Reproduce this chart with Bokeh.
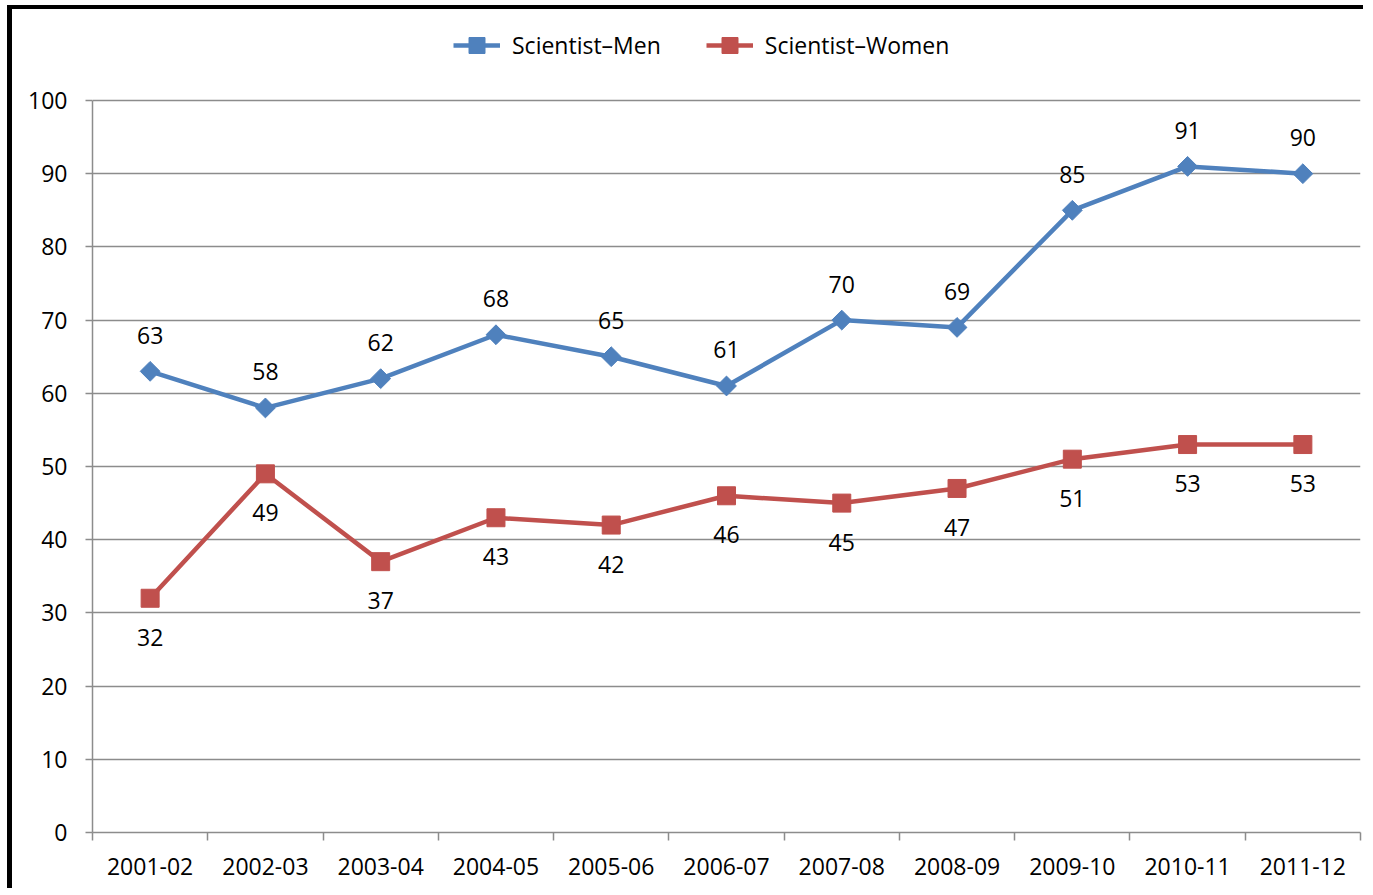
from bokeh.plotting import figure
from bokeh.models import ColumnDataSource, FixedTicker, Legend, LegendItem, Range1d
from bokeh.core.properties import value
from bokeh.embed import file_html
from bokeh.resources import INLINE

years = ["2001-02", "2002-03", "2003-04", "2004-05", "2005-06", "2006-07",
         "2007-08", "2008-09", "2009-10", "2010-11", "2011-12"]
men = [63, 58, 62, 68, 65, 61, 70, 69, 85, 91, 90]
women = [32, 49, 37, 43, 42, 46, 45, 47, 51, 53, 53]
y_ticks = [0, 10, 20, 30, 40, 50, 60, 70, 80, 90, 100]

FONT = "Open Sans"
BLUE = "#4F81BD"
RED = "#C0504D"
GRAY = "#8C8C8C"

# layout: frame spans whole height above x axis; the value axis occupies the
# lower part, the legend sits in the blank band above the 100 gridline
FRAME_H = 823      # px from figure top to x axis
AXIS_H = 732       # px used by 0..100
y_top = y_ticks[-1] * FRAME_H / AXIS_H

xs = [i + 0.5 for i in range(len(years))]
src = ColumnDataSource(dict(x=xs, men=men, women=women,
                            men_lbl=[str(v) for v in men],
                            women_lbl=[str(v) for v in women]))

p = figure(width=1356, height=883, output_backend="svg", toolbar_location=None,
           x_range=Range1d(0, len(years)), y_range=Range1d(0, y_top),
           min_border_left=80, min_border_right=8, min_border_top=0,
           min_border_bottom=60)
p.styles = {"border-left": "5px solid black", "border-top": "4px solid black",
            "margin-left": "7px", "margin-top": "5px"}
p.outline_line_color = None
p.background_fill_color = "white"
p.border_fill_color = "white"

# grids
p.xgrid.grid_line_color = None
p.ygrid.grid_line_color = GRAY
p.ygrid.grid_line_width = 1.5
p.ygrid.ticker = FixedTicker(ticks=y_ticks)

# y axis
p.yaxis.ticker = FixedTicker(ticks=y_ticks)
p.yaxis.bounds = (y_ticks[0], y_ticks[-1])
p.yaxis.axis_line_color = GRAY
p.yaxis.axis_line_width = 1.5
p.yaxis.major_tick_line_color = GRAY
p.yaxis.major_tick_line_width = 1.5
p.yaxis.major_tick_in = 0
p.yaxis.major_tick_out = 7
p.yaxis.minor_tick_line_color = None
p.yaxis.major_label_standoff = 18
p.yaxis.major_label_text_font = FONT
p.yaxis.major_label_text_font_size = "23px"
p.yaxis.major_label_text_color = "black"

# x axis: labels at centers, ticks at boundaries (minor ticks)
p.xaxis.ticker = FixedTicker(ticks=xs, minor_ticks=list(range(len(years) + 1)))
p.xaxis.major_label_overrides = {x: y for x, y in zip(xs, years)}
p.xaxis.axis_line_color = GRAY
p.xaxis.axis_line_width = 1.5
p.xaxis.major_tick_line_color = None
p.xaxis.minor_tick_line_color = GRAY
p.xaxis.minor_tick_line_width = 1.5
p.xaxis.minor_tick_in = 0
p.xaxis.minor_tick_out = 8
p.xaxis.major_tick_in = 0
p.xaxis.major_tick_out = 0
p.xaxis.major_label_standoff = 17
p.xaxis.major_label_text_font = FONT
p.xaxis.major_label_text_font_size = "23px"
p.xaxis.major_label_text_color = "black"

# series
l_men = p.line("x", "men", source=src, line_color=BLUE, line_width=4.5)
m_men = p.scatter("x", "men", source=src, marker="square", angle=0.785398,
                  size=14, fill_color=BLUE, line_color=BLUE)
l_wom = p.line("x", "women", source=src, line_color=RED, line_width=4.5)
m_wom = p.scatter("x", "women", source=src, marker="square", size=18,
                  fill_color=RED, line_color=RED)

p.text("x", "men", text="men_lbl", source=src, text_align="center",
       text_baseline="middle", y_offset=-36, text_font=value(FONT),
       text_font_size="23px", text_color="black")
p.text("x", "women", text="women_lbl", source=src, text_align="center",
       text_baseline="middle", y_offset=39, text_font=value(FONT),
       text_font_size="23px", text_color="black")

legend = Legend(items=[LegendItem(label="Scientist\u2013Men", renderers=[l_men, m_men]),
                       LegendItem(label="Scientist\u2013Women", renderers=[l_wom, m_wom])],
                orientation="horizontal", location=(361, 767),
                label_text_font=FONT, label_text_font_size="23px",
                label_text_color="black", glyph_width=47, glyph_height=40,
                label_standoff=12, spacing=45, padding=0, margin=0,
                border_line_color=None, background_fill_alpha=0)
p.add_layout(legend, "center")

open("out.html", "w").write(file_html(p, INLINE))
